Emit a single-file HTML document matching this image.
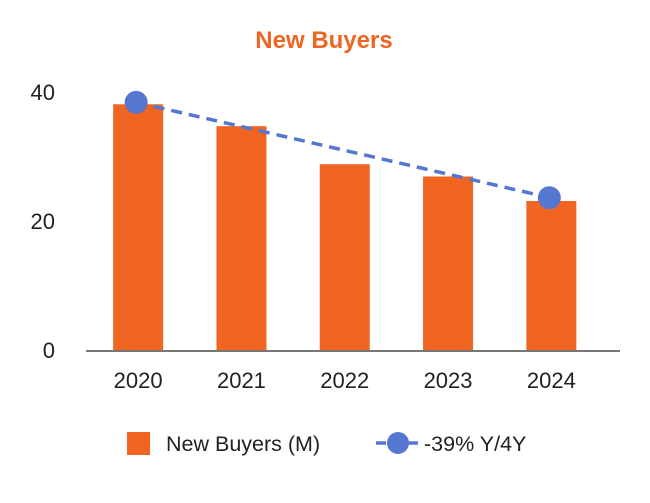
<!DOCTYPE html>
<html><head><meta charset="utf-8"><style>
body{margin:0;background:#fff;font-family:"Liberation Sans",Arial,sans-serif;}
svg text{font-family:"Liberation Sans",Arial,sans-serif;}
</style></head><body>
<svg id="chart" width="650" height="498" viewBox="0 0 650 498">
<text x="324" y="48" text-anchor="middle" font-size="24" font-weight="bold" fill="#ee6622">New Buyers</text>
<g id="yaxis"></g><g id="bars"></g>
<line x1="86" y1="351" x2="620" y2="351" stroke="#777" stroke-width="2"/>
<g id="xaxis"></g><g id="trend"></g>
<g>
<rect x="127" y="432" width="23" height="23" fill="#f06522"/>
<text x="166" y="451" font-size="21.5" fill="#222">New Buyers (M)</text>
<line x1="376" y1="443" x2="420" y2="443" stroke="#5677cf" stroke-width="3.5" stroke-dasharray="10,6"/>
<circle cx="398" cy="443" r="11" fill="#5677cf"/>
<text x="424" y="451" font-size="21.5" fill="#222">-39% Y/4Y</text>
</g>
</svg>
<script>
const categories=["2020","2021","2022","2023","2024"];
const buyers=[38.1,34.7,28.8,26.9,23.1];
const trendCats=["2020","2024"];
const trendValues=[38.4,23.6];
const yTicks=[0,20,40];
const NS="http://www.w3.org/2000/svg";
const left=86.5,band=103.3,y0=350,unit=6.45,barW=50;
const xs=c=>left+band*(categories.indexOf(c)+0.5);
const ys=v=>y0-v*unit;
function mk(t,a,p){const e=document.createElementNS(NS,t);for(const k in a)e.setAttribute(k,a[k]);p.appendChild(e);return e;}
const ya=document.getElementById('yaxis'),ba=document.getElementById('bars'),xa=document.getElementById('xaxis'),tr=document.getElementById('trend');
yTicks.forEach(v=>{const t=mk('text',{x:55,y:ys(v)+8,'text-anchor':'end','font-size':22,fill:'#222'},ya);t.textContent=v;

});
categories.forEach((c,i)=>{const r=mk('rect',{x:xs(c)-barW/2,y:ys(buyers[i]),width:barW,height:buyers[i]*unit,fill:'#f06522'},ba);


const t=mk('text',{x:xs(c),y:388,'text-anchor':'middle','font-size':22,fill:'#222'},xa);t.textContent=c;

});
const l=mk('line',{x1:xs(trendCats[0])-2,y1:ys(trendValues[0]),x2:xs(trendCats[1])-1,y2:ys(trendValues[1]),stroke:'#5677cf','stroke-width':3.5,'stroke-dasharray':'11,7'},tr);


trendCats.forEach((c,i)=>{const p=mk('circle',{cx:xs(c)-2,cy:ys(trendValues[i]),r:11.5,fill:'#5677cf'},tr);

});
</script>
</body></html>
